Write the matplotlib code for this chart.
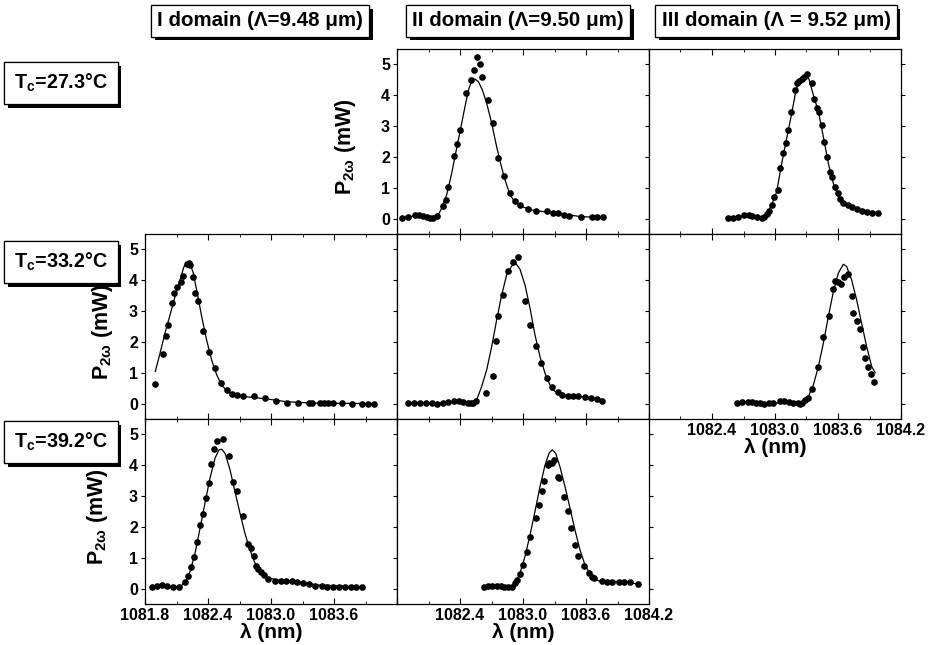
import matplotlib
matplotlib.use('Agg')
import matplotlib.pyplot as plt
import matplotlib.patheffects as pe
from matplotlib.ticker import FixedLocator, MultipleLocator

plt.rcParams['font.family'] = ['Liberation Sans', 'DejaVu Sans']
plt.rcParams['font.weight'] = 'bold'
plt.rcParams['axes.labelweight'] = 'bold'
plt.rcParams['mathtext.fontset'] = 'custom'
plt.rcParams['mathtext.rm'] = 'Liberation Sans:bold'
plt.rcParams['mathtext.it'] = 'Liberation Sans:bold'
plt.rcParams['mathtext.bf'] = 'Liberation Sans:bold'

# ---- data (lambda in nm, P_2w in mW) ----
# II domain, Tc = 27.3 C
d2_t27_x = [1081.851, 1081.908, 1081.971, 1082.01, 1082.051, 1082.082, 1082.114, 1082.146, 1082.178,
            1082.241, 1082.264, 1082.289, 1082.346, 1082.368, 1082.40, 1082.454, 1082.505, 1082.533, 1082.559,
            1082.587, 1082.613, 1082.663, 1082.714, 1082.765, 1082.822, 1082.876, 1082.924, 1082.971, 1083.051,
            1083.124, 1083.225, 1083.289, 1083.337, 1083.39, 1083.438, 1083.549, 1083.654, 1083.702, 1083.759]
d2_t27_y = [0.03, 0.06, 0.12, 0.12, 0.08, 0.06, 0.03, 0.03, 0.08,
            0.41, 0.60, 1.04, 2.04, 2.42, 2.87, 4.06, 4.50, 4.82, 5.23,
            5.01, 4.60, 3.83, 3.09, 1.98, 1.38, 0.82, 0.58, 0.44, 0.31,
            0.25, 0.25, 0.19, 0.17, 0.12, 0.08, 0.06, 0.04, 0.04, 0.04]
d2_t27_fx = [1081.851, 1081.971, 1082.098, 1082.187, 1082.225, 1082.273, 1082.321, 1082.368, 1082.416, 1082.454,
             1082.486, 1082.517, 1082.543, 1082.575, 1082.613, 1082.654, 1082.702, 1082.749, 1082.79, 1082.829,
             1082.876, 1082.924, 1082.987, 1083.083, 1083.21, 1083.368, 1083.559, 1083.759]
d2_t27_fy = [0.03, 0.09, 0.05, 0.09, 0.33, 0.77, 1.47, 2.28, 3.09, 3.74,
             4.23, 4.50, 4.52, 4.44, 4.17, 3.74, 3.09, 2.33, 1.74, 1.25,
             0.77, 0.53, 0.39, 0.28, 0.22, 0.15, 0.06, 0.04]

# III domain, Tc = 27.3 C
d3_t27_x = [1082.549, 1082.603, 1082.651, 1082.708, 1082.752, 1082.784, 1082.825, 1082.873, 1082.898, 1082.921,
            1082.943, 1082.968, 1082.994, 1083.025, 1083.048, 1083.079, 1083.102, 1083.127, 1083.152, 1083.19,
            1083.206, 1083.232, 1083.254, 1083.279, 1083.302, 1083.349, 1083.371, 1083.397, 1083.419, 1083.444,
            1083.47, 1083.492, 1083.524, 1083.54, 1083.571, 1083.597, 1083.619, 1083.651, 1083.692, 1083.73,
            1083.778, 1083.832, 1083.873, 1083.921, 1083.984]
d3_t27_y = [0.01, 0.03, 0.06, 0.12, 0.12, 0.08, 0.04, 0.01, 0.06, 0.15,
            0.26, 0.44, 0.71, 0.93, 1.63, 2.14, 2.46, 2.87, 3.47, 4.17,
            4.39, 4.47, 4.52, 4.58, 4.69, 4.39, 3.87, 3.58, 3.47, 3.03,
            2.50, 2.01, 1.52, 1.36, 1.04, 0.82, 0.63, 0.50, 0.44, 0.37,
            0.30, 0.26, 0.22, 0.19, 0.19]
d3_t27_fx = [1082.549, 1082.746, 1082.873, 1082.921, 1082.968, 1083.016, 1083.064, 1083.111, 1083.159, 1083.2,
             1083.238, 1083.286, 1083.324, 1083.365, 1083.413, 1083.46, 1083.508, 1083.556, 1083.603, 1083.651,
             1083.73, 1083.857, 1083.984]
d3_t27_fy = [0.04, 0.09, 0.03, 0.17, 0.44, 0.87, 1.79, 2.60, 3.41, 4.17,
             4.52, 4.66, 4.52, 4.01, 3.47, 2.66, 1.79, 1.14, 0.71, 0.50,
             0.35, 0.25, 0.19]

# I domain, Tc = 33.2 C
d1_t33_x = [1081.898, 1081.968, 1082.0, 1082.019, 1082.054, 1082.073, 1082.102, 1082.143, 1082.159, 1082.197,
            1082.219, 1082.232, 1082.254, 1082.279, 1082.305, 1082.356, 1082.41, 1082.47, 1082.521, 1082.578,
            1082.625, 1082.679, 1082.737, 1082.838, 1082.943, 1083.048, 1083.149, 1083.254, 1083.365, 1083.387,
            1083.467, 1083.505, 1083.546, 1083.587, 1083.673, 1083.775, 1083.863, 1083.921, 1083.981]
d1_t33_y = [0.64, 1.60, 2.19, 2.55, 3.25, 3.60, 3.77, 3.95, 4.15, 4.52,
            4.55, 4.51, 4.10, 3.58, 3.34, 2.35, 1.68, 1.14, 0.66, 0.44,
            0.31, 0.28, 0.26, 0.26, 0.19, 0.10, 0.03, 0.01, 0.01, 0.01,
            0.01, 0.01, 0.01, 0.01, 0.01, 0.0, 0.0, 0.0, 0.0]
d1_t33_fx = [1081.898, 1081.943, 1081.99, 1082.038, 1082.086, 1082.133, 1082.171, 1082.197, 1082.229, 1082.26,
             1082.298, 1082.34, 1082.387, 1082.435, 1082.483, 1082.53, 1082.578, 1082.641, 1082.768, 1082.959,
             1083.149, 1083.371, 1083.594, 1083.981]
d1_t33_fy = [1.04, 1.63, 2.28, 2.87, 3.47, 4.01, 4.44, 4.57, 4.55, 4.23,
             3.58, 2.82, 2.06, 1.41, 0.93, 0.60, 0.42, 0.31, 0.22, 0.15,
             0.06, 0.02, 0.01, 0.0]

# II domain, Tc = 33.2 C
d2_t33_x = [1081.902, 1081.965, 1082.019, 1082.073, 1082.13, 1082.178, 1082.235, 1082.289, 1082.346, 1082.39,
            1082.432, 1082.473, 1082.505, 1082.527, 1082.552, 1082.648, 1082.711, 1082.74, 1082.759, 1082.806,
            1082.86, 1082.908, 1082.956, 1083.019, 1083.067, 1083.121, 1083.171, 1083.225, 1083.273, 1083.337,
            1083.375, 1083.432, 1083.479, 1083.521, 1083.59, 1083.648, 1083.702, 1083.756]
d2_t33_y = [0.01, 0.03, 0.03, 0.03, 0.03, 0.0, 0.03, 0.05, 0.10, 0.07,
            0.06, 0.03, 0.01, 0.03, 0.10, 0.35, 0.90, 2.03, 2.84, 3.52,
            4.31, 4.60, 4.74, 3.34, 2.55, 1.87, 1.33, 0.82, 0.53, 0.39,
            0.28, 0.26, 0.25, 0.25, 0.22, 0.17, 0.14, 0.10]
d2_t33_fx = [1081.902, 1082.543, 1082.559, 1082.606, 1082.654, 1082.702, 1082.749, 1082.797, 1082.844, 1082.892,
             1082.93, 1082.971, 1083.019, 1083.067, 1083.114, 1083.162, 1083.21, 1083.257, 1083.305, 1083.368,
             1083.559, 1083.756]
d2_t33_fy = [0.03, 0.03, 0.12, 0.55, 1.09, 1.85, 2.71, 3.52, 4.17, 4.46,
             4.55, 4.36, 3.85, 3.09, 2.23, 1.52, 0.98, 0.60, 0.39, 0.28,
             0.22, 0.12]

# III domain, Tc = 33.2 C
d3_t33_x = [1082.635, 1082.689, 1082.74, 1082.784, 1082.816, 1082.857, 1082.898, 1082.943, 1082.984, 1083.048,
            1083.089, 1083.133, 1083.175, 1083.216, 1083.238, 1083.26, 1083.286, 1083.311, 1083.349, 1083.406,
            1083.46, 1083.514, 1083.556, 1083.571, 1083.603, 1083.629, 1083.66, 1083.692, 1083.73, 1083.746,
            1083.778, 1083.81, 1083.841, 1083.857, 1083.889, 1083.914, 1083.946]
d3_t33_y = [0.03, 0.05, 0.04, 0.05, 0.03, 0.03, 0.0, 0.01, 0.03, 0.10,
            0.07, 0.06, 0.03, 0.01, 0.0, 0.03, 0.12, 0.17, 0.46, 1.18,
            2.17, 2.85, 3.71, 3.99, 3.95, 3.88, 4.12, 4.19, 3.49, 2.95,
            2.69, 2.41, 1.83, 1.47, 1.18, 0.96, 0.71]
d3_t33_fx = [1082.635, 1083.222, 1083.27, 1083.317, 1083.365, 1083.413, 1083.46, 1083.508, 1083.556, 1083.603,
             1083.651, 1083.683, 1083.73, 1083.778, 1083.825, 1083.873, 1083.921, 1083.955]
d3_t33_fy = [0.03, 0.01, 0.06, 0.22, 0.60, 1.20, 1.95, 2.82, 3.63, 4.23,
             4.52, 4.44, 4.01, 3.36, 2.60, 1.85, 1.20, 1.0]

# I domain, Tc = 39.2 C
d1_t39_x = [1081.87, 1081.911, 1081.959, 1082.013, 1082.07, 1082.127, 1082.181, 1082.213, 1082.241, 1082.27,
            1082.298, 1082.327, 1082.356, 1082.381, 1082.406, 1082.432, 1082.46, 1082.489, 1082.54, 1082.603,
            1082.641, 1082.673, 1082.73, 1082.784, 1082.806, 1082.838, 1082.857, 1082.879, 1082.905, 1082.933,
            1082.975, 1083.038, 1083.092, 1083.143, 1083.197, 1083.251, 1083.308, 1083.365, 1083.419, 1083.483,
            1083.537, 1083.594, 1083.651, 1083.705, 1083.759, 1083.81, 1083.863]
d1_t39_y = [0.04, 0.10, 0.12, 0.10, 0.04, 0.04, 0.20, 0.41, 0.71, 1.04,
            1.52, 2.06, 2.42, 2.93, 3.41, 4.03, 4.53, 4.80, 4.84, 4.31,
            3.47, 3.18, 2.37, 1.45, 1.31, 1.06, 0.74, 0.63, 0.53, 0.44,
            0.31, 0.26, 0.26, 0.26, 0.25, 0.20, 0.17, 0.14, 0.10, 0.08,
            0.06, 0.06, 0.06, 0.06, 0.06, 0.06, 0.06]
d1_t39_fx = [1081.87, 1082.133, 1082.181, 1082.229, 1082.276, 1082.324, 1082.371, 1082.419, 1082.467, 1082.505,
             1082.53, 1082.562, 1082.61, 1082.657, 1082.705, 1082.752, 1082.8, 1082.848, 1082.895, 1082.959,
             1083.054, 1083.213, 1083.435, 1083.863]
d1_t39_fy = [0.06, 0.06, 0.19, 0.55, 1.14, 1.95, 2.77, 3.58, 4.23, 4.50,
             4.52, 4.39, 3.85, 3.14, 2.44, 1.79, 1.25, 0.82, 0.55, 0.37,
             0.28, 0.25, 0.12, 0.06]

# II domain, Tc = 39.2 C
d2_t39_x = [1082.632, 1082.67, 1082.708, 1082.749, 1082.79, 1082.822, 1082.86, 1082.892, 1082.924, 1082.94,
            1082.971, 1083.003, 1083.035, 1083.067, 1083.121, 1083.152, 1083.178, 1083.203, 1083.235, 1083.251,
            1083.273, 1083.292, 1083.33, 1083.343, 1083.394, 1083.425, 1083.454, 1083.495, 1083.521, 1083.584,
            1083.629, 1083.654, 1083.679, 1083.749, 1083.797, 1083.844, 1083.914, 1083.965, 1084.019, 1084.092]
d2_t39_y = [0.06, 0.08, 0.10, 0.10, 0.08, 0.06, 0.04, 0.06, 0.17, 0.28,
            0.47, 0.77, 1.18, 1.66, 2.30, 2.71, 3.17, 3.50, 4.01, 4.08,
            4.06, 4.17, 3.63, 3.58, 2.96, 2.52, 1.98, 1.40, 1.06, 0.73,
            0.50, 0.39, 0.33, 0.25, 0.22, 0.22, 0.22, 0.22, 0.20, 0.15]
d2_t39_fx = [1082.632, 1082.876, 1082.924, 1082.971, 1083.019, 1083.067, 1083.114, 1083.162, 1083.21, 1083.248,
             1083.279, 1083.311, 1083.352, 1083.4, 1083.448, 1083.495, 1083.543, 1083.59, 1083.638, 1083.686,
             1083.749, 1083.876, 1084.003, 1084.092]
d2_t39_fy = [0.06, 0.06, 0.17, 0.50, 1.04, 1.74, 2.50, 3.31, 4.01, 4.39,
             4.50, 4.39, 3.95, 3.31, 2.60, 1.90, 1.25, 0.77, 0.47, 0.30,
             0.22, 0.22, 0.20, 0.15]

col_titles = ['I domain (\u039b=9.48 \u03bcm)', 'II domain (\u039b=9.50 \u03bcm)', 'III domain (\u039b = 9.52 \u03bcm)']
row_titles = ['T$_c$=27.3\u00b0C', 'T$_c$=33.2\u00b0C', 'T$_c$=39.2\u00b0C']
xtick_vals = [1081.8, 1082.4, 1083.0, 1083.6, 1084.2]
xtick_txt = ['1081.8', '1082.4', '1083.0', '1083.6', '1084.2']

# ---- layout (pixels) ----
W, H = 930, 645
fig = plt.figure(figsize=(9.3, 6.45), dpi=100)
col_left = [145, 397, 649]
row_top = [49, 234, 419]
pw, ph = 252, 185

# row, col, points, fit, ylabel x (axes frac) or None, which x tick labels to show
panels = [
    (0, 1, d2_t27_x, d2_t27_y, d2_t27_fx, d2_t27_fy, -0.155, None),
    (0, 2, d3_t27_x, d3_t27_y, d3_t27_fx, d3_t27_fy, None, None),
    (1, 0, d1_t33_x, d1_t33_y, d1_t33_fx, d1_t33_fy, -0.12, None),
    (1, 1, d2_t33_x, d2_t33_y, d2_t33_fx, d2_t33_fy, None, None),
    (1, 2, d3_t33_x, d3_t33_y, d3_t33_fx, d3_t33_fy, None, [1, 2, 3, 4]),
    (2, 0, d1_t39_x, d1_t39_y, d1_t39_fx, d1_t39_fy, -0.14, [0, 1, 2, 3]),
    (2, 1, d2_t39_x, d2_t39_y, d2_t39_fx, d2_t39_fy, None, [1, 2, 3, 4]),
]

for r, c, px, py, fx, fy, ylab, xshow in panels:
    ax = fig.add_axes([col_left[c] / W, 1 - (row_top[r] + ph) / H, pw / W, ph / H])
    ax.plot(fx, fy, color='black', lw=0.9, zorder=2)
    ax.plot(px, py, 'o', color='black', ms=4.8, mew=0, zorder=3)
    ax.set_xlim(1081.8, 1084.2)
    ax.set_ylim(-0.5, 5.5)
    ax.xaxis.set_major_locator(FixedLocator(xtick_vals))
    ax.xaxis.set_minor_locator(MultipleLocator(0.3))
    ax.set_yticks([0, 1, 2, 3, 4, 5])
    ax.tick_params(axis='x', which='both', direction='in', top=True, bottom=True, labelsize=11.5, pad=3)
    ax.tick_params(axis='x', which='major', length=4, width=0.8)
    ax.tick_params(axis='x', which='minor', length=2.5, width=0.6)
    ax.tick_params(axis='y', direction='out', left=True, right=True, length=3, width=0.8, labelsize=11.5, pad=2)
    for s in ax.spines.values():
        s.set_linewidth(0.9)
    if xshow is None:
        ax.set_xticklabels([])
    else:
        ax.set_xticklabels([t if i in xshow else '' for i, t in enumerate(xtick_txt)])
        ax.set_xlabel('\u03bb (nm)', fontsize=15, labelpad=0)
    if ylab is not None:
        ax.set_ylabel('P$_{2\\omega}$ (mW)', fontsize=15.5)
        ax.yaxis.set_label_coords(ylab, 0.47)
    else:
        ax.set_yticklabels([])

shadow = [pe.withSimplePatchShadow(offset=(2.6, -2.6), shadow_rgbFace='black', alpha=1.0), pe.Normal()]

# column headers
for x_c, txt in zip([260, 518, 776], col_titles):
    t = fig.text(x_c / W, 1 - 21 / H, txt, ha='center', va='center', fontsize=14.8, fontweight='bold',
                 bbox=dict(boxstyle='square,pad=0.3', fc='white', ec='black', lw=0.9))
    t.get_bbox_patch().set_path_effects(shadow)

# row labels
for y_c, txt in zip([83, 262, 442], row_titles):
    t = fig.text(61 / W, 1 - y_c / H, txt, ha='center', va='center', fontsize=14.2, fontweight='bold',
                 bbox=dict(boxstyle='square,pad=0.5', fc='white', ec='black', lw=0.9))
    t.get_bbox_patch().set_path_effects(shadow)

fig.savefig('out.png', dpi=100)
